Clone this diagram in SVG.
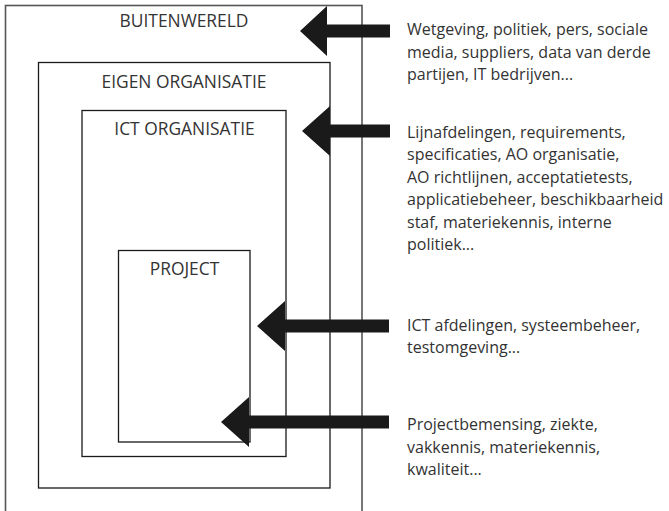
<svg xmlns="http://www.w3.org/2000/svg" width="669" height="511" viewBox="0 0 669 511">
  <style>
    .box { fill: none; stroke: #1a1a1a; stroke-width: 1.3; }
    .outer { stroke: #555; stroke-width: 1.6; }
    .label { font-family: "Open Sans", "Noto Sans", sans-serif; font-size: 17.4px; fill: #333333; text-anchor: middle; }
    .note { font-family: "Open Sans", "Noto Sans", sans-serif; font-size: 16px; fill: #333333; }
    .arrow { fill: #1a1a1a; stroke: none; }
  </style>
  <rect width="669" height="511" fill="#ffffff"/>

  <!-- nested scopes -->
  <g id="buitenwereld">
    <rect class="box outer" x="5.5" y="5.5" width="356.5" height="520"/>
    <text class="label" x="184" y="27">BUITENWERELD</text>
  </g>
  <g id="eigen-organisatie">
    <rect class="box" x="38.5" y="62.5" width="291.5" height="425.5"/>
    <text class="label" x="184" y="87.5">EIGEN ORGANISATIE</text>
  </g>
  <g id="ict-organisatie">
    <rect class="box" x="82" y="110.5" width="204" height="346"/>
    <text class="label" x="184.5" y="135">ICT ORGANISATIE</text>
  </g>
  <g id="project">
    <rect class="box" x="118.5" y="250.5" width="131.5" height="191.5"/>
    <text class="label" x="184.5" y="274.5">PROJECT</text>
  </g>

  <!-- influences entering each scope -->
  <g id="connectors">
    <path class="arrow" d="M300,31 L327,6 L327,24.5 L390,24.5 L390,37.5 L327,37.5 L327,56 Z"/>
    <path class="arrow" d="M302,131 L330,106 L330,124.5 L390,124.5 L390,137.5 L330,137.5 L330,156 Z"/>
    <path class="arrow" d="M257,326 L285,301 L285,319.5 L389,319.5 L389,332.5 L285,332.5 L285,351 Z"/>
    <path class="arrow" d="M221,422 L249,397 L249,415.5 L389,415.5 L389,428.5 L249,428.5 L249,447 Z"/>
  </g>

  <g id="note-buitenwereld">
    <text class="note" x="407" y="35">Wetgeving, politiek, pers, sociale</text>
    <text class="note" x="407" y="57.5">media, suppliers, data van derde</text>
    <text class="note" x="407" y="80">partijen, IT bedrijven...</text>
  </g>
  <g id="note-eigen-organisatie">
    <text class="note" x="407" y="137.5">Lijnafdelingen, requirements,</text>
    <text class="note" x="407" y="160">specificaties, AO organisatie,</text>
    <text class="note" x="407" y="182.5">AO richtlijnen, acceptatietests,</text>
    <text class="note" x="407" y="205">applicatiebeheer, beschikbaarheid</text>
    <text class="note" x="407" y="227.5">staf, materiekennis, interne</text>
    <text class="note" x="407" y="250">politiek...</text>
  </g>
  <g id="note-ict-organisatie">
    <text class="note" x="407" y="330.5">ICT afdelingen, systeembeheer,</text>
    <text class="note" x="407" y="353">testomgeving...</text>
  </g>
  <g id="note-project">
    <text class="note" x="407" y="430">Projectbemensing, ziekte,</text>
    <text class="note" x="407" y="452.5">vakkennis, materiekennis,</text>
    <text class="note" x="407" y="475">kwaliteit...</text>
  </g>
</svg>
